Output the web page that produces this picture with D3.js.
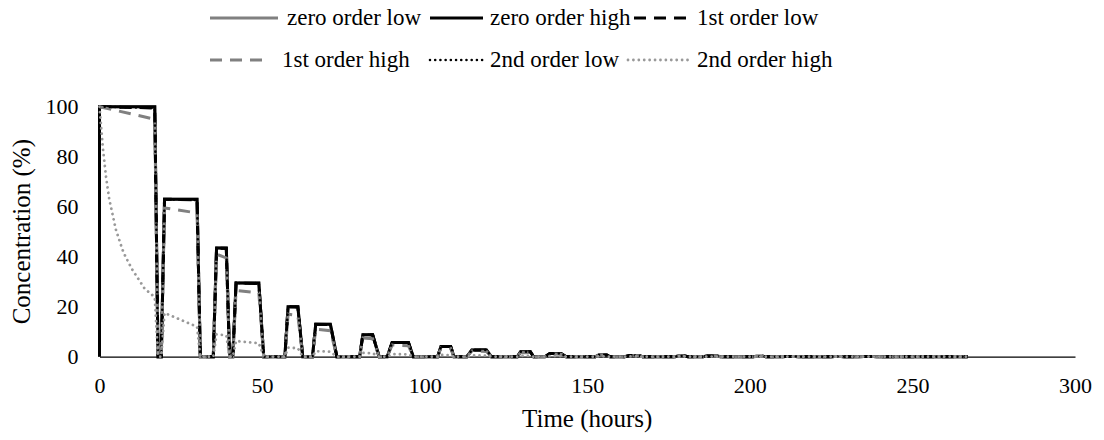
<!DOCTYPE html>
<html><head><meta charset="utf-8">
<script src="https://cdn.jsdelivr.net/npm/d3@7"></script>
</head><body style="margin:0">
<svg id="chart" width="1104" height="440"></svg>
<script>
// ---------- data ----------
const seriesNames = ["zero order low","zero order high","1st order low","1st order high","2nd order low","2nd order high"];
const xTicks = [0,50,100,150,200,250,300];
const yTicks = [0,20,40,60,80,100];
const xTitle = "Time (hours)";
const yTitle = "Concentration (%)";

const riseStart = [0,19,35,41,57,65.5,80,88.5,104,113,128.5,137,152.5,161.5,177,185.5,201,209.5,225,233.5,249,257.5];
const topStart  = [0,20,36,42,58,66.5,81,90,105,114.5,129.5,138.5,153.5,163,178,187,202,211,226,235,250,259];
const topEnd    = [17,30,39,49,61,71,84,95,108,119,132.5,142,156,166,180,190,204,214,228,238,252,262];
const fallEnd   = [18,31,40,50.5,62.5,73,86,96.5,109,120.5,133.5,143.5,157,167,181,191,205,215,229,239,253,263];
const endTime = 267;

const zeroOrderTop = [100,63,43.5,29.5,20,13,8.8,5.7,4.1,2.7,2.0,1.3,0.7,0.5,0.3,0.25,0.15,0.1,0.08,0.05,0.03,0.02];
const lowOrderTopStart = [100,63,43.5,29.5,20,13,8.8,5.7,4.1,2.7,2.0,1.3,0.7,0.5,0.3,0.25,0.15,0.1,0.08,0.05,0.03,0.02];
const lowOrderTopEnd   = [99.5,62.7,43.3,29.3,19.9,12.9,8.8,5.7,4.1,2.7,2.0,1.3,0.7,0.5,0.3,0.25,0.15,0.1,0.08,0.05,0.03,0.02];
const firstHighTopStart = [100,59.5,41,26.5,17,11,7.5,4.7,3.5,2.3,1.7,1.1,0.6,0.45,0.25,0.2,0.12,0.08,0.06,0.04,0.02,0.02];
const firstHighTopEnd   = [95,57.5,39.5,25.5,16.5,10.4,7.2,4.4,3.3,2.1,1.6,1.0,0.55,0.4,0.25,0.18,0.12,0.08,0.06,0.04,0.02,0.02];
const secondHighFirstT = [0,1,2,3,4,5,6,7,8,10,12,14,16,17];
const secondHighFirstV = [100,84,72,63,57,51,47,43,40,35,31,27,25,23.5];
const secondHighTopStart = [100,17.5,9,6.3,3.6,2.2,1.5,1.0,0.7,0.5,0.35,0.25,0.15,0.12,0.08,0.06,0.04,0.03,0.02,0.015,0.01,0.01];
const secondHighTopEnd   = [23.5,12,8.5,5.4,3.4,2.0,1.4,0.95,0.65,0.45,0.33,0.22,0.14,0.1,0.07,0.05,0.04,0.03,0.02,0.015,0.01,0.01];

function buildSeries(tops0, tops1, withBase, firstCurveT, firstCurveV){
  const pts = [];
  for (let i = 0; i < riseStart.length; i++){
    if (i > 0 || withBase) pts.push([riseStart[i], 0]);
    if (i === 0 && firstCurveT){
      firstCurveT.forEach((t, j) => pts.push([t, firstCurveV[j]]));
    } else {
      pts.push([topStart[i], tops0[i]]);
      pts.push([topEnd[i], tops1[i]]);
    }
    pts.push([fallEnd[i], 0]);
  }
  pts.push([endTime, 0]);
  return pts;
}

const seriesData = [
  buildSeries(zeroOrderTop, zeroOrderTop, true),
  buildSeries(zeroOrderTop, zeroOrderTop, true),
  buildSeries(lowOrderTopStart, lowOrderTopEnd, false),
  buildSeries(firstHighTopStart, firstHighTopEnd, false),
  buildSeries(lowOrderTopStart, lowOrderTopEnd, false),
  buildSeries(secondHighTopStart, secondHighTopEnd, false, secondHighFirstT, secondHighFirstV)
];

const styles = [
  {stroke:"#808080", width:3,   dash:null,        cap:"butt"},
  {stroke:"#000000", width:3,   dash:null,        cap:"butt"},
  {stroke:"#000000", width:3,   dash:"12,8",      cap:"butt"},
  {stroke:"#808080", width:3,   dash:"12,8",      cap:"butt"},
  {stroke:"#000000", width:2.6, dash:"0.01,5.2",  cap:"round"},
  {stroke:"#999999", width:2.8, dash:"0.01,5.4",  cap:"round"}
];

const svg = d3.select("#chart");
const x = d3.scaleLinear().domain([0,300]).range([99.5,1075]);
const y = d3.scaleLinear().domain([0,100]).range([356.7,106.7]);

const gx = svg.append("g").attr("transform", `translate(0,${y(0)})`)
  .call(d3.axisBottom(x).tickValues(xTicks).tickSize(0).tickPadding(20));
gx.select(".domain").attr("stroke","#000").attr("stroke-width",1.2);
gx.selectAll("text").attr("y",21).attr("dy","0.71em").style("font-size","22px");

const gy = svg.append("g").attr("transform", `translate(${x(0)},0)`)
  .call(d3.axisLeft(y).tickValues(yTicks).tickSize(0).tickPadding(21));
gy.select(".domain").remove();
gy.selectAll("text").style("font-size","22px");

const line = d3.line().x(d => x(d[0])).y(d => y(d[1]));
seriesData.forEach((pts, i) => {
  const s = styles[i];
  svg.append("path").datum(pts)
    .attr("fill","none")
    .attr("stroke", s.stroke)
    .attr("stroke-width", s.width)
    .attr("stroke-dasharray", s.dash)
    .attr("stroke-linecap", s.cap)
    .attr("stroke-linejoin","miter")
    .attr("d", line);
});

svg.append("text").attr("x", (x(0)+x(300))/2).attr("y", 427)
  .attr("text-anchor","middle").style("font-size","25px").text(xTitle);
svg.append("text").attr("transform", `translate(30,${(y(0)+y(100))/2}) rotate(-90)`)
  .attr("text-anchor","middle").style("font-size","25px").text(yTitle);

const legendPos = [
  {x1:210, x2:278, tx:287, cy:18},
  {x1:430, x2:483, tx:490, cy:18},
  {x1:634, x2:688, tx:697, cy:18},
  {x1:210, x2:264, tx:282, cy:60},
  {x1:430, x2:483, tx:490, cy:60},
  {x1:628, x2:688, tx:697, cy:60}
];
seriesNames.forEach((name, i) => {
  const p = legendPos[i], s = styles[i];
  svg.append("line").attr("x1",p.x1).attr("x2",p.x2).attr("y1",p.cy).attr("y2",p.cy)
    .attr("stroke",s.stroke).attr("stroke-width",s.width)
    .attr("stroke-dasharray",s.dash).attr("stroke-linecap",s.cap);
  svg.append("text").attr("x",p.tx).attr("y",p.cy).attr("dy","0.3em")
    .style("font-size","23px").text(name);
});

svg.selectAll("text").style("font-family", '"Liberation Serif"').attr("fill","#000");
</script>
</body></html>
